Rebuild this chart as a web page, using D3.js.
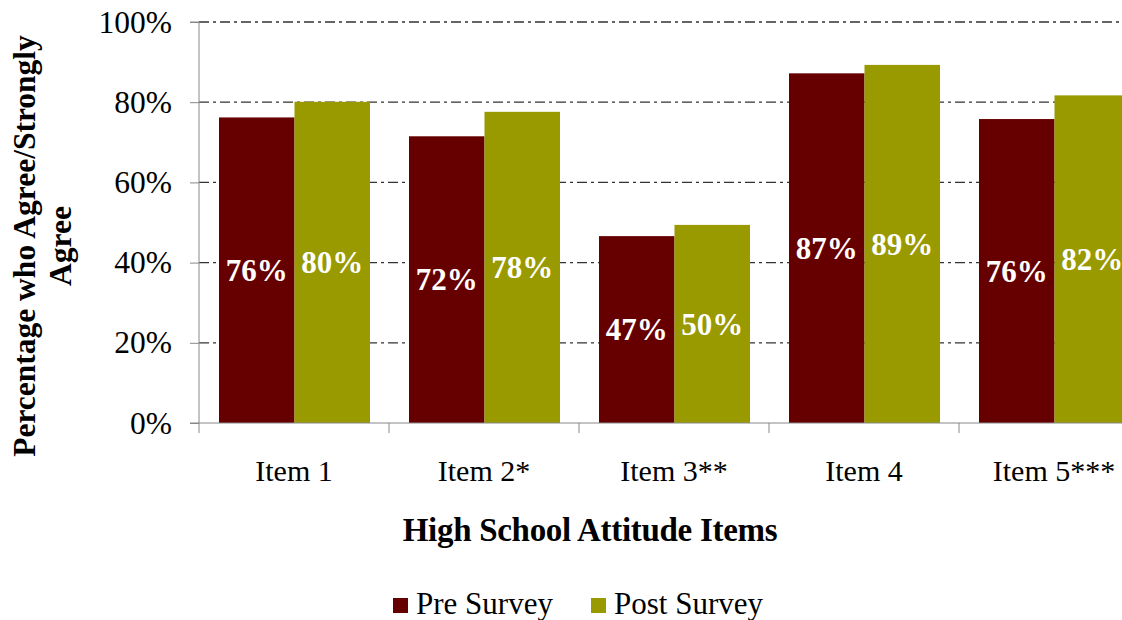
<!DOCTYPE html>
<html>
<head>
<meta charset="utf-8">
<script src="https://cdn.jsdelivr.net/npm/d3@7"></script>
<style>
  html, body { margin: 0; padding: 0; background: #fff; }
  svg { display: block; font-family: "Liberation Serif", "Times New Roman", Times, serif; }
</style>
</head>
<body>
<svg id="chart" width="1122" height="620"></svg>
<script>
const categories = ["Item 1", "Item 2*", "Item 3**", "Item 4", "Item 5***"];
const seriesNames = ["Pre Survey", "Post Survey"];
const preValues = [76.2, 71.5, 46.6, 87.2, 75.8];
const postValues = [80.1, 77.6, 49.4, 89.3, 81.7];
const preLabels = ["76%", "72%", "47%", "87%", "76%"];
const postLabels = ["80%", "78%", "50%", "89%", "82%"];
const yTicks = [0, 20, 40, 60, 80, 100];
const colors = ["#660000", "#999900"];

const svg = d3.select("#chart");
const W = 1122;
const FONT = "Liberation Serif, Times New Roman, serif";
const plot = { left: 199, top: 22, bottom: 423, right: 1149 };

const x = d3.scaleBand().domain(categories).range([plot.left, plot.right]).padding(0);
const xs = d3.scaleBand().domain(seriesNames).range([20, 171]).padding(0);
const y = d3.scaleLinear().domain([0, 100]).range([plot.bottom, plot.top]);

// gridlines
svg.append("g").selectAll("line")
  .data(yTicks.filter(d => d > 0))
  .join("line")
  .attr("x1", plot.left).attr("x2", W)
  .attr("y1", d => y(d)).attr("y2", d => y(d))
  .attr("stroke", "#333").attr("stroke-width", 1.3)
  .attr("stroke-dasharray", "10,4,3,4");

// bars
const rows = categories.map((c, i) => ({
  cat: c,
  vals: [
    { s: seriesNames[0], v: preValues[i], label: preLabels[i], color: colors[0] },
    { s: seriesNames[1], v: postValues[i], label: postLabels[i], color: colors[1] }
  ]
}));

const groups = svg.append("g").selectAll("g")
  .data(rows).join("g")
  .attr("transform", d => `translate(${x(d.cat)},0)`);

groups.selectAll("rect")
  .data(d => d.vals).join("rect")
  .attr("x", d => xs(d.s))
  .attr("width", xs.bandwidth())
  .attr("y", d => y(d.v))
  .attr("height", d => y(0) - y(d.v))
  .attr("fill", d => d.color);

groups.selectAll("text")
  .data(d => d.vals).join("text")
  .attr("x", d => xs(d.s) + xs.bandwidth() / 2)
  .attr("y", d => (y(d.v) + y(0)) / 2)
  .attr("dy", "0.35em")
  .attr("text-anchor", "middle")
  .attr("fill", "#fff")
  .attr("font-weight", "bold")
  .attr("font-size", 31)
  .text(d => d.label);

// y axis
const yAxis = svg.append("g")
  .attr("transform", `translate(${plot.left},0)`)
  .call(d3.axisLeft(y).tickValues(yTicks).tickSize(9).tickPadding(18).tickFormat(d => d + "%"));
yAxis.attr("font-family", FONT);
yAxis.select(".domain").attr("stroke", "#888").attr("d", `M-9,${plot.top}H0V${plot.bottom}`);
yAxis.selectAll(".tick line").attr("stroke", "#888");
yAxis.selectAll(".tick text")
  .attr("font-family", FONT)
  .attr("font-size", 31.5).attr("fill", "#000");

// x axis
svg.append("line")
  .attr("x1", 190).attr("x2", W)
  .attr("y1", plot.bottom).attr("y2", plot.bottom)
  .attr("stroke", "#888");
const bounds = categories.map(c => x(c)).concat([x(categories[categories.length - 1]) + x.bandwidth()]);
svg.append("g").selectAll("line")
  .data(bounds).join("line")
  .attr("x1", d => d).attr("x2", d => d)
  .attr("y1", plot.bottom).attr("y2", plot.bottom + 10)
  .attr("stroke", "#888");
svg.append("g").selectAll("text")
  .data(categories).join("text")
  .attr("x", d => x(d) + x.bandwidth() / 2)
  .attr("y", 481)
  .attr("text-anchor", "middle")
  .attr("font-size", 30)
  .text(d => d);

// x title
svg.append("text")
  .attr("x", 590).attr("y", 541)
  .attr("text-anchor", "middle")
  .attr("font-weight", "bold")
  .attr("font-size", 33)
  .attr("letter-spacing", -0.3)
  .text("High School Attitude Items");

// y title
const yt = svg.append("text")
  .attr("transform", "translate(0,246) rotate(-90)")
  .attr("text-anchor", "middle")
  .attr("font-weight", "bold")
  .attr("font-size", 31.5);
yt.append("tspan").attr("x", 0).attr("y", 35).text("Percentage who Agree/Strongly");
yt.append("tspan").attr("x", 0).attr("y", 71).text("Agree");

// legend
const legendX = [393, 591];
const lg = svg.append("g").selectAll("g")
  .data(seriesNames).join("g")
  .attr("transform", (d, i) => `translate(${legendX[i]},598)`);
lg.append("rect").attr("width", 15).attr("height", 15).attr("fill", (d, i) => colors[i]);
lg.append("text").attr("x", 23).attr("y", 16).attr("font-size", 31).text(d => d);
</script>
</body>
</html>
